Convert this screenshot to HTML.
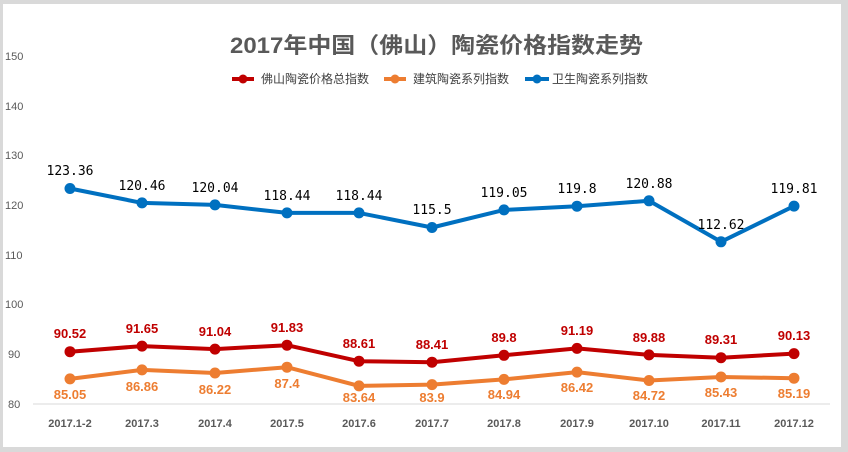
<!DOCTYPE html>
<html><head><meta charset="utf-8"><style>
body{margin:0;width:848px;height:452px;overflow:hidden;background:#d9d9d9}
svg{display:block}
.b{font-family:"DejaVu Sans Mono",monospace;font-size:13px;fill:#000;text-anchor:middle}
.r{font-family:"Liberation Sans",sans-serif;font-size:13px;font-weight:bold;fill:#c00000;text-anchor:middle}
.o{font-family:"Liberation Sans",sans-serif;font-size:13px;font-weight:bold;fill:#ed7d31;text-anchor:middle}
.x{font-family:"Liberation Sans",sans-serif;font-size:11px;font-weight:bold;fill:#595959;text-anchor:middle}
</style></head><body>
<svg width="848" height="452" xmlns="http://www.w3.org/2000/svg">
<rect x="0" y="0" width="848" height="452" fill="#d9d9d9"/>
<rect x="3" y="4" width="838" height="443" fill="#fff"/>
<text x="230" y="53" textLength="413" lengthAdjust="spacingAndGlyphs" font-family="Liberation Sans, Noto Sans CJK SC, sans-serif" font-size="22" font-weight="bold" fill="#595959">2017年中国（佛山）陶瓷价格指数走势</text>
<g font-family="Liberation Sans, Noto Sans CJK SC, sans-serif" font-size="12" fill="#404040">
<line x1="232" y1="79" x2="254" y2="79" stroke="#c00000" stroke-width="4"/><circle cx="243" cy="79" r="4.5" fill="#c00000"/><text x="261" y="83" textLength="108" lengthAdjust="spacingAndGlyphs">佛山陶瓷价格总指数</text>
<line x1="384" y1="79" x2="406" y2="79" stroke="#ed7d31" stroke-width="4"/><circle cx="395" cy="79" r="4.5" fill="#ed7d31"/><text x="413" y="83" textLength="96" lengthAdjust="spacingAndGlyphs">建筑陶瓷系列指数</text>
<line x1="525" y1="79" x2="549" y2="79" stroke="#0070c0" stroke-width="4"/><circle cx="537" cy="79" r="4.5" fill="#0070c0"/><text x="552" y="83" textLength="96" lengthAdjust="spacingAndGlyphs">卫生陶瓷系列指数</text>
</g>
<g font-family="Liberation Sans, sans-serif" font-size="11" fill="#595959">
<text x="5" y="60">150</text><text x="5" y="110">140</text><text x="5" y="159">130</text><text x="5" y="209">120</text><text x="5" y="259">110</text><text x="5" y="308">100</text><text x="8" y="358">90</text><text x="8" y="408">80</text>
</g>
<line x1="33" y1="404" x2="830" y2="404" stroke="#d9d9d9" stroke-width="1"/>

<polyline fill="none" stroke="#0070c0" stroke-width="4" stroke-linejoin="round" points="70,188.5 142,202.9 215,204.9 287,212.9 359,212.9 432,227.5 504,209.9 577,206.2 649,200.8 721,241.8 794,206.1"/>
<g fill="#0070c0"><circle cx="70" cy="188.5" r="5.5"/><circle cx="142" cy="202.9" r="5.5"/><circle cx="215" cy="204.9" r="5.5"/><circle cx="287" cy="212.9" r="5.5"/><circle cx="359" cy="212.9" r="5.5"/><circle cx="432" cy="227.5" r="5.5"/><circle cx="504" cy="209.9" r="5.5"/><circle cx="577" cy="206.2" r="5.5"/><circle cx="649" cy="200.8" r="5.5"/><circle cx="721" cy="241.8" r="5.5"/><circle cx="794" cy="206.1" r="5.5"/></g>
<text class="b" x="70" y="175">123.36</text><text class="b" x="142" y="190">120.46</text><text class="b" x="215" y="192">120.04</text><text class="b" x="287" y="200">118.44</text><text class="b" x="359" y="200">118.44</text><text class="b" x="432" y="214">115.5</text><text class="b" x="504" y="197">119.05</text><text class="b" x="577" y="193">119.8</text><text class="b" x="649" y="188">120.88</text><text class="b" x="721" y="229">112.62</text><text class="b" x="794" y="193">119.81</text>

<polyline fill="none" stroke="#c00000" stroke-width="4" stroke-linejoin="round" points="70,351.7 142,346.1 215,349.1 287,345.2 359,361.2 432,362.2 504,355.3 577,348.4 649,354.9 721,357.7 794,353.6"/>
<g fill="#c00000"><circle cx="70" cy="351.7" r="5.5"/><circle cx="142" cy="346.1" r="5.5"/><circle cx="215" cy="349.1" r="5.5"/><circle cx="287" cy="345.2" r="5.5"/><circle cx="359" cy="361.2" r="5.5"/><circle cx="432" cy="362.2" r="5.5"/><circle cx="504" cy="355.3" r="5.5"/><circle cx="577" cy="348.4" r="5.5"/><circle cx="649" cy="354.9" r="5.5"/><circle cx="721" cy="357.7" r="5.5"/><circle cx="794" cy="353.6" r="5.5"/></g>
<text class="r" x="70" y="338">90.52</text><text class="r" x="142" y="333">91.65</text><text class="r" x="215" y="336">91.04</text><text class="r" x="287" y="332">91.83</text><text class="r" x="359" y="348">88.61</text><text class="r" x="432" y="349">88.41</text><text class="r" x="504" y="342">89.8</text><text class="r" x="577" y="335">91.19</text><text class="r" x="649" y="342">89.88</text><text class="r" x="721" y="344">89.31</text><text class="r" x="794" y="340">90.13</text>

<polyline fill="none" stroke="#ed7d31" stroke-width="4" stroke-linejoin="round" points="70,378.9 142,369.9 215,373 287,367.2 359,385.9 432,384.6 504,379.4 577,372.1 649,380.5 721,377 794,378.2"/>
<g fill="#ed7d31"><circle cx="70" cy="378.9" r="5.5"/><circle cx="142" cy="369.9" r="5.5"/><circle cx="215" cy="373" r="5.5"/><circle cx="287" cy="367.2" r="5.5"/><circle cx="359" cy="385.9" r="5.5"/><circle cx="432" cy="384.6" r="5.5"/><circle cx="504" cy="379.4" r="5.5"/><circle cx="577" cy="372.1" r="5.5"/><circle cx="649" cy="380.5" r="5.5"/><circle cx="721" cy="377" r="5.5"/><circle cx="794" cy="378.2" r="5.5"/></g>
<text class="o" x="70" y="399">85.05</text><text class="o" x="142" y="391">86.86</text><text class="o" x="215" y="394">86.22</text><text class="o" x="287" y="388">87.4</text><text class="o" x="359" y="402">83.64</text><text class="o" x="432" y="402">83.9</text><text class="o" x="504" y="399">84.94</text><text class="o" x="577" y="392">86.42</text><text class="o" x="649" y="400">84.72</text><text class="o" x="721" y="397">85.43</text><text class="o" x="794" y="398">85.19</text>

<text class="x" x="70" y="427">2017.1-2</text><text class="x" x="142" y="427">2017.3</text><text class="x" x="215" y="427">2017.4</text><text class="x" x="287" y="427">2017.5</text><text class="x" x="359" y="427">2017.6</text><text class="x" x="432" y="427">2017.7</text><text class="x" x="504" y="427">2017.8</text><text class="x" x="577" y="427">2017.9</text><text class="x" x="649" y="427">2017.10</text><text class="x" x="721" y="427">2017.11</text><text class="x" x="794" y="427">2017.12</text>
</svg>
</body></html>
